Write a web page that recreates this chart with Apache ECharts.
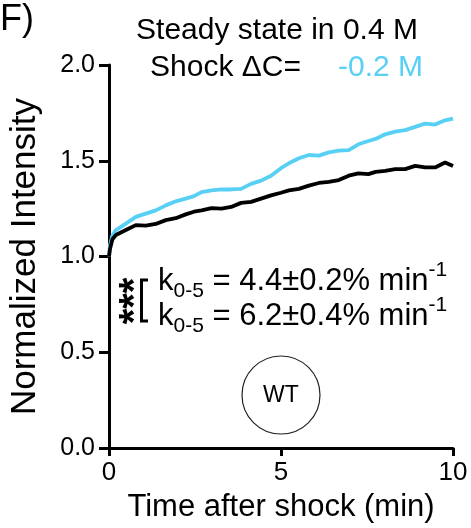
<!DOCTYPE html>
<html>
<head>
<meta charset="utf-8">
<script src="https://cdn.jsdelivr.net/npm/echarts@6/dist/echarts.min.js"></script>
<style>
  html, body { margin: 0; padding: 0; background: #fff; }
  #chart { width: 471px; height: 528px; }
</style>
</head>
<body>
<div id="chart"></div>
<script>
// time after shock (min)
const timeMin = [0, 0.03, 0.1, 0.2, 0.49, 0.78, 1.07, 1.36, 1.65, 1.94, 2.23, 2.47, 2.69, 2.98, 3.27, 3.55, 3.84, 4.13, 4.42, 4.71,
  5.0, 5.23, 5.52, 5.81, 6.1, 6.39, 6.68, 6.97, 7.25, 7.54, 7.75, 8.03, 8.32, 8.61, 8.9, 9.19, 9.48, 9.77, 10];

// black trace (k = 4.4 %/min)
const blackIntensity = [1.0, 1.04, 1.09, 1.112, 1.138, 1.164, 1.161, 1.17, 1.19, 1.2, 1.22, 1.234, 1.241, 1.253, 1.25, 1.259, 1.28, 1.285, 1.302, 1.319,
  1.333, 1.345, 1.353, 1.37, 1.384, 1.39, 1.399, 1.422, 1.434, 1.43, 1.442, 1.447, 1.456, 1.456, 1.473, 1.465, 1.465, 1.491, 1.473];

// cyan trace, shock -0.2 M (k = 6.2 %/min)
const shockIntensity = [1.0, 1.06, 1.11, 1.138, 1.172, 1.207, 1.224, 1.241, 1.267, 1.288, 1.302, 1.315, 1.336, 1.345, 1.35, 1.35, 1.353, 1.379, 1.396, 1.422,
  1.461, 1.487, 1.513, 1.53, 1.527, 1.544, 1.553, 1.556, 1.586, 1.603, 1.614, 1.638, 1.652, 1.66, 1.677, 1.694, 1.689, 1.711, 1.72];

const yTicks = [0, 0.5, 1, 1.5, 2];
const xTicks = [0, 5, 10];

const CYAN = '#58d0f5';
const FONT = '"Liberation Sans", Arial, Helvetica, sans-serif';

const chart = echarts.init(document.getElementById('chart'), null, {renderer: 'canvas'});

const toPairs = (xs, ys) => xs.map((x, i) => [x, ys[i]]);

const richK = (color) => ({
  k: {fontSize: 31, lineHeight: 42, verticalAlign: 'middle', color: color, fontFamily: FONT},
  sub: {fontSize: 21, lineHeight: 20, verticalAlign: 'bottom', color: color, fontFamily: FONT},
  sup: {fontSize: 21, lineHeight: 20, verticalAlign: 'top', color: color, fontFamily: FONT}
});

const option = {
  animation: false,
  grid: {left: 107, right: 18, top: 65, bottom: 76},
  xAxis: {
    type: 'value',
    min: xTicks[0],
    max: xTicks[xTicks.length - 1],
    interval: 5,
    name: 'Time after shock (min)',
    nameLocation: 'middle',
    nameGap: 44,
    nameTextStyle: {fontSize: 31, color: '#000', fontFamily: FONT},
    axisLine: {lineStyle: {color: '#000', width: 3}},
    axisTick: {length: 8, lineStyle: {color: '#000', width: 3}},
    axisLabel: {fontSize: 26, color: '#000', margin: 12, fontFamily: FONT},
    splitLine: {show: false}
  },
  yAxis: {
    type: 'value',
    min: yTicks[0],
    max: yTicks[yTicks.length - 1],
    interval: 0.5,
    name: 'Normalized Intensity',
    nameLocation: 'middle',
    nameGap: 66,
    nameTextStyle: {fontSize: 35, color: '#000', fontFamily: FONT},
    axisLine: {show: true, lineStyle: {color: '#000', width: 3}},
    axisTick: {show: true, length: 10, lineStyle: {color: '#000', width: 3}},
    axisLabel: {fontSize: 25, color: '#000', margin: 14, fontFamily: FONT,
      formatter: (v) => v.toFixed(1)},
    splitLine: {show: false}
  },
  series: [
    {
      type: 'line',
      data: toPairs(timeMin, shockIntensity),
      showSymbol: false,
      lineStyle: {color: CYAN, width: 3.8},
      z: 3
    },
    {
      type: 'line',
      data: toPairs(timeMin, blackIntensity),
      showSymbol: false,
      lineStyle: {color: '#000', width: 3.8},
      z: 4
    }
  ],
  graphic: [
    {type: 'text', left: 0, top: 2,
      style: {text: 'F)', fontSize: 36, fill: '#000', fontFamily: FONT}},
    {type: 'text', x: 277, y: 31,
      style: {text: 'Steady state in 0.4 M', fontSize: 30, fill: '#000', fontFamily: FONT,
        align: 'center', verticalAlign: 'middle'}},
    {type: 'text', x: 150, y: 68,
      style: {text: 'Shock \u0394C=', fontSize: 30, fill: '#000', fontFamily: FONT,
        align: 'left', verticalAlign: 'middle'}},
    {type: 'text', x: 338, y: 68,
      style: {text: '-0.2 M', fontSize: 30, fill: CYAN, fontFamily: FONT,
        align: 'left', verticalAlign: 'middle'}},
    // significance stars + bracket
    {type: 'text', x: 136, y: 301, rotation: Math.PI / 2,
      style: {text: '***', fontSize: 40, fontWeight: 'bold', fill: '#000', fontFamily: FONT,
        align: 'center', verticalAlign: 'middle'}},
    {type: 'polyline', shape: {points: [[148, 280], [141.5, 280], [141.5, 321], [148, 321]]},
      style: {stroke: '#000', lineWidth: 3, fill: null}},
    {type: 'text', x: 158, y: 281,
      style: {text: '{k|k}{sub|0-5}{k| = 4.4±0.2% min}{sup|-1}', rich: richK('#000'),
        align: 'left', verticalAlign: 'middle'}},
    {type: 'text', x: 158, y: 316,
      style: {text: '{k|k}{sub|0-5}{k| = 6.2±0.4% min}{sup|-1}', rich: richK(CYAN),
        align: 'left', verticalAlign: 'middle'}},
    // WT badge
    {type: 'circle', shape: {cx: 281, cy: 395, r: 39},
      style: {stroke: '#222', lineWidth: 1.2, fill: null}},
    {type: 'text', x: 281, y: 396,
      style: {text: 'WT', fontSize: 23, fill: '#000', fontFamily: FONT,
        align: 'center', verticalAlign: 'middle'}}
  ]
};

chart.setOption(option);
</script>
</body>
</html>
